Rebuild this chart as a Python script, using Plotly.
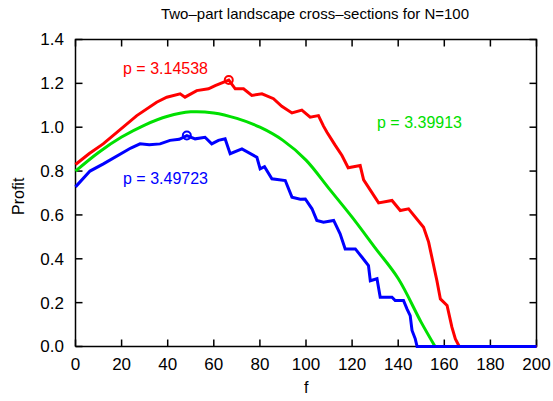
import plotly.graph_objects as go

# ---- data ----
red_f = [0, 2, 6, 12, 20.8, 26.6, 35.2, 39.6, 45.4, 47.5, 52.6, 57.7, 60.6, 66.5, 69.3, 72.9,
         76.5, 80.9, 85.9, 89.5, 93.9, 98.2, 101.8, 105.4, 107.6, 109.1, 112.7, 115.6, 118.3,
         123.5, 125, 131.5, 137.3, 140.9, 144.5, 148.1, 151, 153.2, 155.4, 156.8, 158.3, 161.2,
         163.3, 164.8, 166.5, 200]
red_y = [0.83, 0.848, 0.88, 0.924, 1.0, 1.053, 1.114, 1.137, 1.152, 1.137, 1.167, 1.175, 1.19,
         1.215, 1.175, 1.175, 1.145, 1.152, 1.13, 1.095, 1.065, 1.078, 1.046, 1.053, 1.005, 0.977,
         0.917, 0.871, 0.815, 0.825, 0.76, 0.655, 0.666, 0.62, 0.628, 0.582, 0.544, 0.476, 0.377,
         0.30, 0.217, 0.187, 0.088, 0.035, 0.0, 0.0]

green_f = [0, 10, 20, 30, 40, 50, 60, 70, 80, 90, 100, 110, 120, 130, 140, 150, 156]
green_y = [0.80, 0.885, 0.955, 1.01, 1.05, 1.07, 1.065, 1.04, 1.0, 0.94, 0.85, 0.72, 0.59,
           0.45, 0.31, 0.11, 0.0]

blue_f = [0, 6.3, 12.1, 19.3, 24, 28, 32, 36.7, 41, 45, 48.3, 51.9, 56.2, 59.1, 62, 64.9, 67.1,
          72.2, 78.7, 80.1, 82, 85.2, 91, 93.9, 97.5, 99.7, 102.6, 104.7, 107.6, 112, 114.8, 117,
          121.4, 124.3, 127.1, 127.9, 130.8, 132.2, 137.3, 138.7, 142.3, 143.8, 145.2, 146, 147.4,
          148.2, 200]
blue_y = [0.728, 0.80, 0.833, 0.879, 0.905, 0.924, 0.92, 0.924, 0.94, 0.945, 0.962, 0.947, 0.954,
          0.924, 0.94, 0.947, 0.879, 0.901, 0.863, 0.81, 0.82, 0.765, 0.757, 0.681, 0.672, 0.673,
          0.628, 0.575, 0.567, 0.575, 0.514, 0.445, 0.445, 0.407, 0.369, 0.30, 0.309, 0.225, 0.225,
          0.21, 0.21, 0.172, 0.141, 0.073, 0.035, 0.0, 0.0]

red_peak = (66.5, 1.215)
blue_peak = (48.3, 0.962)

labels = [("p = 3.14538", 19.8, 1.268, "#ff0000"),
          ("p = 3.49723", 19.8, 0.766, "#0000ff"),
          ("p = 3.39913", 130.0, 1.021, "#00e000")]

x_ticks = list(range(0, 201, 20))
y_ticks = [0.0, 0.2, 0.4, 0.6, 0.8, 1.0, 1.2, 1.4]

FONT = "Liberation Sans, Arial, sans-serif"
W, H = 553, 401

# integer margins; the frame sits 2.5 px inside the plot area (pixel-centred, not clipped)
XMIN, XMAX, YMIN, YMAX = 0, 200, 0.0, 1.4
m_l, m_r, m_t, m_b = 73, 14, 37, 52
pad = 2.5
dom_w = W - m_l - m_r
dom_h = H - m_t - m_b
ppx = (dom_w - 2 * pad) / (XMAX - XMIN)
ppy = (dom_h - 2 * pad) / (YMAX - YMIN)
xr = [XMIN - pad / ppx, XMAX + pad / ppx]
yr = [YMIN - pad / ppy, YMAX + pad / ppy]

def paper_x(px):
    return (px - m_l) / dom_w

def paper_y(py):
    return (H - m_b - py) / dom_h

tick_px = 7
tx, ty = tick_px / ppx, tick_px / ppy

fig = go.Figure()

# border frame
fig.add_trace(go.Scatter(x=[XMIN, XMAX, XMAX, XMIN, XMIN], y=[YMIN, YMIN, YMAX, YMAX, YMIN],
                         mode="lines", line=dict(color="black", width=1.5),
                         hoverinfo="skip", showlegend=False))
# tick marks (inside, on all four sides)
tkx, tky = [], []
for v in x_ticks:
    tkx += [v, v, None, v, v, None]
    tky += [YMIN, YMIN + ty, None, YMAX, YMAX - ty, None]
for v in y_ticks:
    tkx += [XMIN, XMIN + tx, None, XMAX, XMAX - tx, None]
    tky += [v, v, None, v, v, None]
fig.add_trace(go.Scatter(x=tkx, y=tky, mode="lines", line=dict(color="black", width=1.5),
                         hoverinfo="skip", showlegend=False))

fig.add_trace(go.Scatter(x=red_f, y=red_y, mode="lines",
                         line=dict(color="#ff0000", width=3), showlegend=False))
fig.add_trace(go.Scatter(x=green_f, y=green_y, mode="lines",
                         line=dict(color="#00e000", width=3, shape="spline"), showlegend=False))
fig.add_trace(go.Scatter(x=blue_f, y=blue_y, mode="lines",
                         line=dict(color="#0000ff", width=3), showlegend=False))
fig.add_trace(go.Scatter(x=[red_peak[0]], y=[red_peak[1]], mode="markers",
                         marker=dict(symbol="circle-open", size=8, color="#ff0000",
                                     line=dict(width=2, color="#ff0000")), showlegend=False))
fig.add_trace(go.Scatter(x=[blue_peak[0]], y=[blue_peak[1]], mode="markers",
                         marker=dict(symbol="circle-open", size=8, color="#0000ff",
                                     line=dict(width=2, color="#0000ff")), showlegend=False))

for text, xx, yy, col in labels:
    fig.add_annotation(x=xx, y=yy, text=text, showarrow=False, xanchor="left",
                       yanchor="middle", font=dict(family=FONT, size=16, color=col))

fig.add_annotation(x=paper_x(18), y=paper_y(196), xref="paper", yref="paper", text="Profit",
                   textangle=-90, showarrow=False, xanchor="center", yanchor="middle",
                   font=dict(family=FONT, size=16, color="black"))
fig.add_annotation(x=paper_x(306), y=paper_y(387), xref="paper", yref="paper", text="f",
                   showarrow=False, xanchor="center", yanchor="middle",
                   font=dict(family=FONT, size=16, color="black"))

axis_common = dict(showline=False, ticks="", showgrid=False, zeroline=False, automargin=False,
                   tickfont=dict(family=FONT, size=17, color="black"))

fig.update_xaxes(range=xr, tickvals=x_ticks, ticktext=[str(v) for v in x_ticks],
                 ticklabelstandoff=3, **axis_common)
fig.update_yaxes(range=yr, tickvals=y_ticks, ticktext=[f"{v:.1f}" for v in y_ticks],
                 ticklabelstandoff=8, **axis_common)

fig.update_layout(
    width=W, height=H,
    margin=dict(l=m_l, r=m_r, t=m_t, b=m_b, autoexpand=False),
    plot_bgcolor="white", paper_bgcolor="white",
    title=dict(text="Two\u2013part landscape cross\u2013sections for N=100",
               x=315 / W, xanchor="center", y=1 - 14 / H, yanchor="middle",
               font=dict(family=FONT, size=15, color="black")),
)

fig.write_html("out.html")
